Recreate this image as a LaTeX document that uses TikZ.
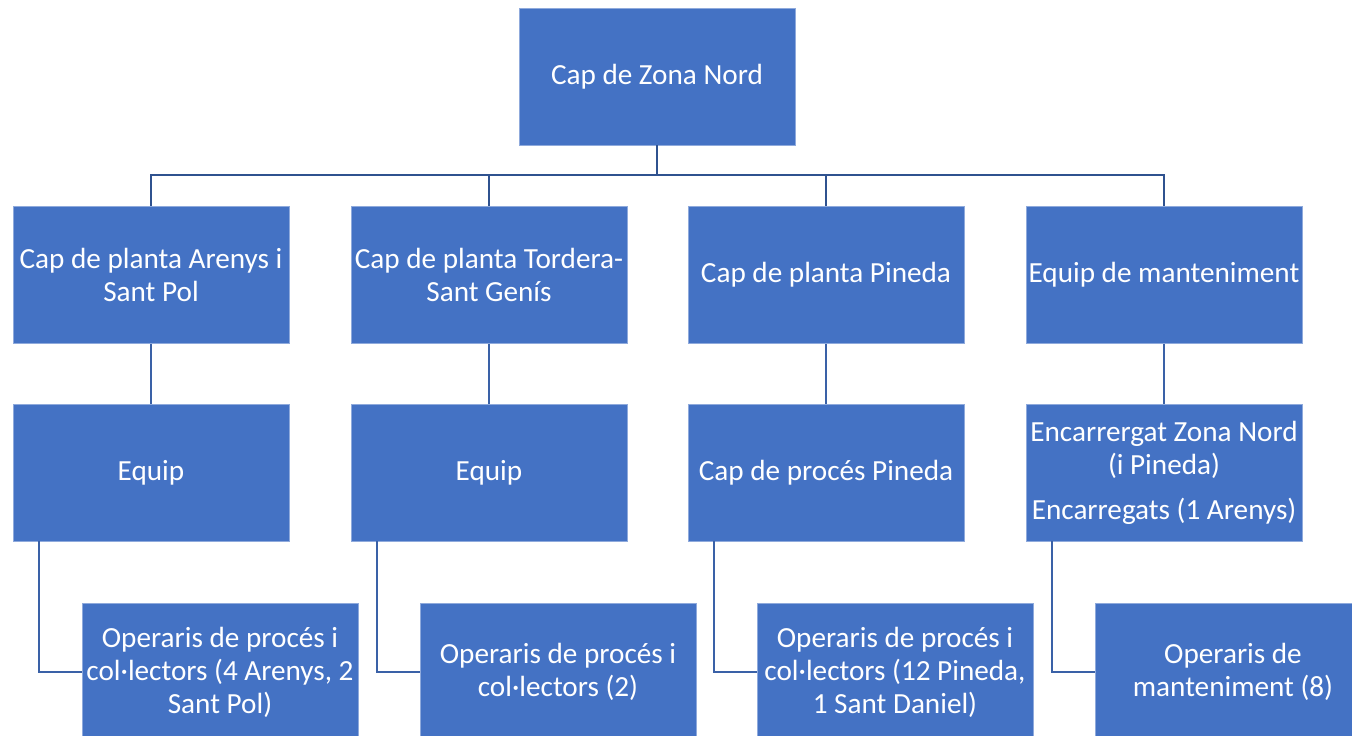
\documentclass[tikz,border=0pt]{standalone}
\usepackage{fontspec}
\setmainfont{Carlito}
\definecolor{boxblue}{HTML}{4472C4}
\definecolor{busblue}{HTML}{2F528F}
\definecolor{edgeblue}{HTML}{8FAADC}
\begin{document}
\begin{tikzpicture}[x=1pt,y=-1pt,
  box/.style={rectangle, fill=boxblue, draw=edgeblue, line width=0.8pt,
    minimum width=276pt, minimum height=137pt, inner sep=0pt,
    align=center, text=white, font=\fontsize{29.2}{33}\selectfont},
  bus/.style={draw=busblue, line width=2.5pt},
  link/.style={draw=boxblue!85!black, line width=2.2pt}]
\useasboundingbox (0,0) rectangle (1352,736);
\clip (0,0) rectangle (1352,736);
% row 1
\node[box] (top) at (657,76.5) {Cap de Zona Nord};
% row 2
\node[box] (r2a) at (151,275) {Cap de planta Arenys i\\Sant Pol};
\node[box] (r2b) at (489,275) {Cap de planta Tordera-\\Sant Genís};
\node[box] (r2c) at (826,275) {Cap de planta Pineda};
\node[box] (r2d) at (1164,275) {Equip de manteniment};
% row 3
\node[box] (r3a) at (151,472.5) {Equip};
\node[box] (r3b) at (489,472.5) {Equip};
\node[box] (r3c) at (826,472.5) {Cap de procés Pineda};
\node[box] (r3d) at (1164,472.5) {Encarrergat Zona Nord\\(i Pineda)\\[12pt]Encarregats (1 Arenys)};
% row 4
\node[box] (r4a) at (220,672) {Operaris de procés i\\col·lectors (4 Arenys, 2\\Sant Pol)};
\node[box] (r4b) at (558,672) {Operaris de procés i\\col·lectors (2)};
\node[box] (r4c) at (895,672) {Operaris de procés i\\col·lectors (12 Pineda,\\1 Sant Daniel)};
\node[box] (r4d) at (1233,672) {Operaris de\\manteniment (8)};
% bus
\coordinate (bus) at (657,175);
\draw[bus] (top.south) -- (bus);
\draw[bus] (r2a.north) |- (bus) -| (r2d.north);
\draw[bus] (r2b.north) -- (r2b.north |- bus);
\draw[bus] (r2c.north) -- (r2c.north |- bus);
% row2 -> row3
\foreach \n in {a,b,c,d} {
  \draw[link] (r2\n.south) -- (r3\n.north);
  \draw[link] (r3\n.south west) ++(26,0) |- (r4\n.west);
}
\end{tikzpicture}
\end{document}
